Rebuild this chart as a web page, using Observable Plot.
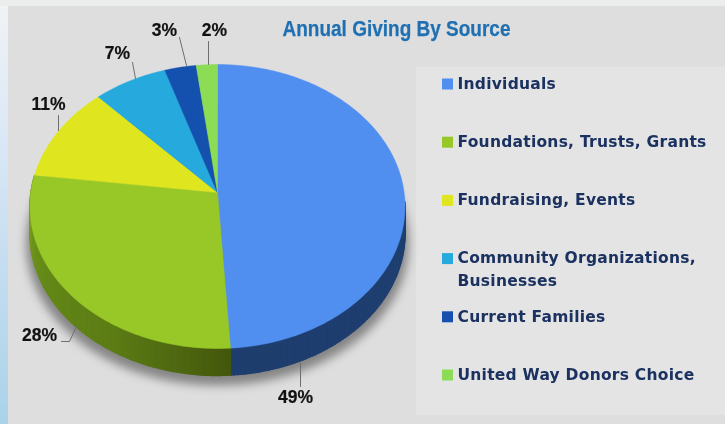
<!DOCTYPE html>
<html><head><meta charset="utf-8">
<style>
html,body{margin:0;padding:0;width:725px;height:424px;overflow:hidden}
body{position:relative;background:linear-gradient(180deg,#f1f3f5 0%,#d9e7f5 35%,#c3dcf0 65%,#a9d3e8 100%)}
#top{position:absolute;left:0;top:0;width:725px;height:6px;background:#ebeded}
#panel{position:absolute;left:8px;top:6px;width:717px;height:418px;background:#dedede}
#legendBox{position:absolute;left:416px;top:67px;width:309px;height:348px;background:#e4e4e4}
#chart{position:absolute;left:0;top:0}
svg{display:block;filter:blur(.45px)}
</style>
<script src="https://cdn.jsdelivr.net/npm/d3@7"></script>
<script src="https://cdn.jsdelivr.net/npm/@observablehq/plot@0.6"></script>
</head><body>
<div id="top"></div><div id="panel"></div><div id="legendBox"></div><div id="chart"></div>
<script>
// Data
const title = "Annual Giving By Source";
const categories = ["Individuals","Foundations, Trusts, Grants","Fundraising, Events","Community Organizations,\nBusinesses","Current Families","United Way Donors Choice"];
const shares = [49,28,11,7,3,2];
const faceColors = ["#508fef","#98c828","#dfe61f","#26a9dd","#1450ad","#8ddc55"];
const wallStops = [["#1e3e6e","#1e3f70","#1f4578"],["#44580d","#5c7c15","#648a18","#7fa521"]];

// Tilted-disc model: perspective factor, screen placement and extrusion depth
const W = 725, H = 424, cx = 217, cy = 192, rx = 186.6, ry = 140.6, persp = 0.0986, depth = 27;
const toX = p => (p - cx) / rx, toY = p => (cy - p) / ry;
const rim = deg => {
  const t = deg * Math.PI / 180, v = Math.cos(t), k = 1 + persp * v;
  return [Math.sin(t) / k, v / k];
};
const D = depth / ry;

let acc = 0;
const slices = shares.map((s, i) => {
  const a0 = acc * 3.6; acc += s;
  return {i, a0, a1: acc * 3.6};
});

const faces = [], walls = [], shadow = [];
for (const {i, a0, a1} of slices) {
  faces.push({id: i, x: 0, y: 0, c: faceColors[i]});
  for (let a = a0; a <= a1 + 1e-6; a += (a1 - a0) / Math.ceil(a1 - a0)) {
    const [x, y] = rim(a);
    faces.push({id: i, x, y, c: faceColors[i]});
  }
  faces.push({id: i, x: 0, y: 0, c: faceColors[i]});
  if (i < 2) {
    const ramp = d3.piecewise(d3.interpolateRgb, wallStops[i]);
    const n = Math.ceil(a1 - a0);
    for (let k = 0; k < n; k++) {
      const b0 = a0 + (a1 - a0) * k / n, b1 = a0 + (a1 - a0) * (k + 1) / n;
      if (b0 < 93) continue; // the far part of the wall is hidden behind the face
      const f = i === 0 ? 1 - k / n : k / n;
      const col = d3.color(ramp(f)).formatHex();
      const [x0, y0] = rim(b0), [x1, y1] = rim(b1);
      const id = i * 1000 + k;
      [[x0, y0], [x1, y1], [x1, y1 - D], [x0, y0 - D], [x0, y0]].forEach(([x, y]) => walls.push({id, x, y, c: col}));
    }
  }
}
for (let a = 0; a <= 360; a += 2) {
  const [x, y] = rim(a);
  shadow.push({x: x * 1.02, y: y - D - 10 / ry});
}

// Annotation layout (percentage labels with their leader lines)
const labelSpots = [[295, 397], [39, 335], [48, 104], [117, 53], [164, 30], [214, 30]];
const leaderRoutes = [
  [[300, 362], [300, 386]],
  [[76, 326], [69, 341], [61, 341]],
  [[58, 130], [58, 115]],
  [[135, 78], [132, 62]],
  [[186, 65], [179, 37]],
  [[208, 64], [208, 41]]
];
const leaders = leaderRoutes.flatMap((r, id) => r.map(([x, y]) => ({id, x: toX(x), y: toY(y)})));
const pctLabels = shares.map((s, i) => ({t: s + "%", x: toX(labelSpots[i][0]), y: toY(labelSpots[i][1])}));

// Legend rows
const rowY = i => 84 + i * 58.2;
const legendRows = categories.map((c, i) => ({c, col: faceColors[i], y: rowY(i)}));

const blurred = (px) => (index, scales, values, dims, ctx, next) => {
  const g = next(index, scales, values, dims, ctx);
  g.style.filter = `blur(${px}px)`;
  return g;
};
const spaced = (em) => (index, scales, values, dims, ctx, next) => {
  const g = next(index, scales, values, dims, ctx);
  g.style.letterSpacing = `${em}px`;
  return g;
};
const fitted = (len) => (index, scales, values, dims, ctx, next) => {
  const g = next(index, scales, values, dims, ctx);
  g.querySelectorAll("text").forEach(t => {
    t.setAttribute("textLength", len);
    t.setAttribute("lengthAdjust", "spacingAndGlyphs");
  });
  return g;
};

const plot = Plot.plot({
  width: W, height: H, margin: 0,
  style: {background: "transparent", overflow: "visible"},
  x: {domain: [toX(0), toX(W)], range: [0, W], axis: null},
  y: {domain: [toY(H), toY(0)], range: [H, 0], axis: null},
  color: {type: "identity"},
  marks: [
    Plot.line(shadow, {x: "x", y: "y", fill: "#858585", stroke: "none", render: blurred(5)}),
    Plot.line(walls, {x: "x", y: "y", z: "id", fill: "c", stroke: "c", strokeWidth: 1.4}),
    Plot.line(faces, {x: "x", y: "y", z: "id", fill: "c", stroke: "c", strokeWidth: 0.5, strokeLinejoin: "round"}),
    Plot.line(leaders, {x: "x", y: "y", z: "id", stroke: "#6e6e6e", strokeWidth: 1}),
    Plot.text(pctLabels, {x: "x", y: "y", text: "t", fill: "#111", stroke: "#111", strokeWidth: 0.2, fontFamily: "Liberation Sans", fontWeight: 700, fontSize: 17.5, textAnchor: "middle"}),
    Plot.text([title], {x: toX(396), y: toY(28), text: d => d, fill: "#1f70b2", stroke: "#1f70b2", strokeWidth: 0.25, fontFamily: "Liberation Sans", fontWeight: 700, fontSize: 22, textAnchor: "middle", render: fitted(228)}),
    Plot.rect(legendRows, {x1: toX(442), x2: toX(453), y1: d => toY(d.y - 5.5), y2: d => toY(d.y + 5.5), fill: "col"}),
    Plot.text(legendRows, {x: toX(457), y: d => toY(d.y - 12), text: "c", fill: "#1b3160", fontFamily: "DejaVu Sans", fontWeight: 700, fontSize: 15.5, textAnchor: "start", lineAnchor: "top", lineHeight: 1.48, render: spaced(0.25)})
  ]
});
document.getElementById("chart").append(plot);
</script>
</body></html>
